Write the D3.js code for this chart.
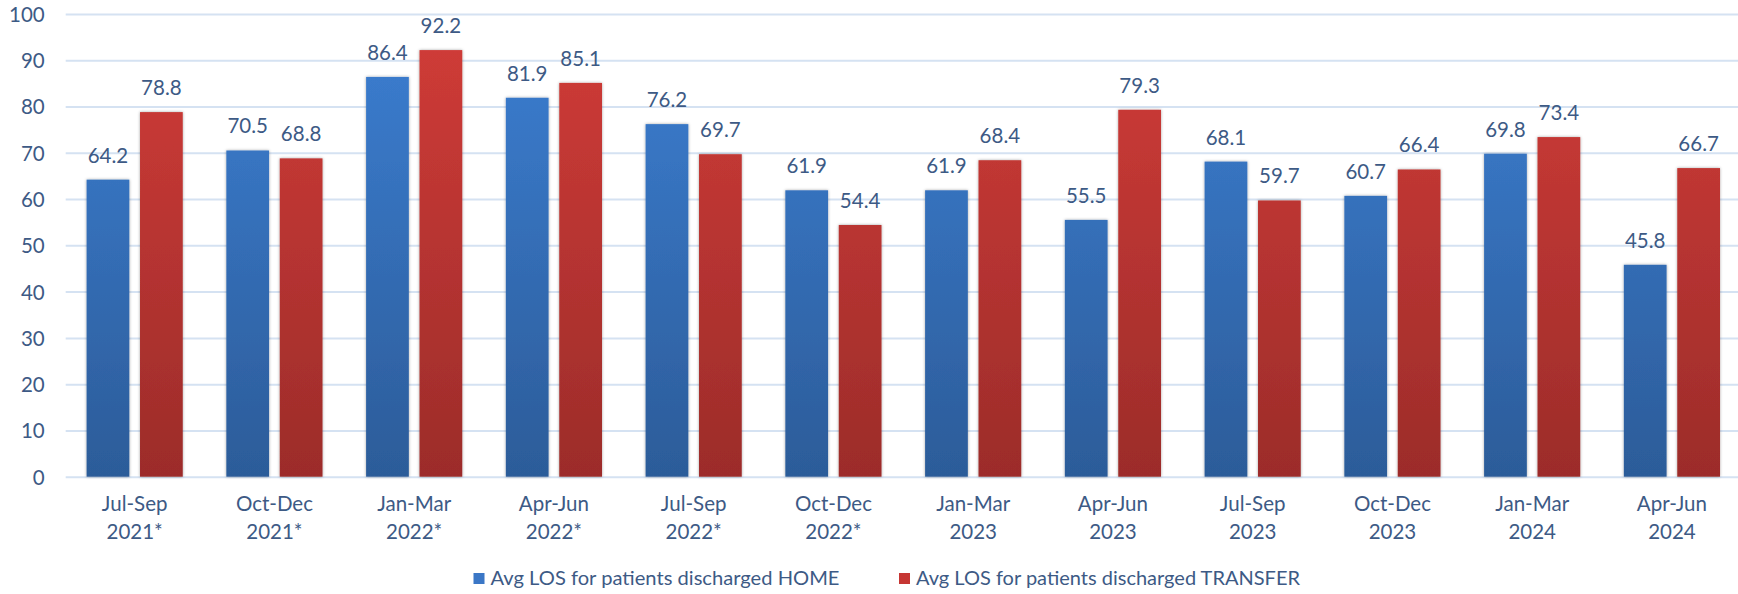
<!DOCTYPE html>
<html><head><meta charset="utf-8">
<script src="https://cdn.jsdelivr.net/npm/d3@7"></script>
<style>html,body{margin:0;padding:0;background:#fff;overflow:hidden}</style>
</head><body>
<svg id="chart" width="1738" height="594"></svg>
<script>
const categoryLine1 = ["Jul-Sep","Oct-Dec","Jan-Mar","Apr-Jun","Jul-Sep","Oct-Dec","Jan-Mar","Apr-Jun","Jul-Sep","Oct-Dec","Jan-Mar","Apr-Jun"];
const categoryLine2 = ["2021*","2021*","2022*","2022*","2022*","2022*","2023","2023","2023","2023","2024","2024"];
const homeValues = [64.2,70.5,86.4,81.9,76.2,61.9,61.9,55.5,68.1,60.7,69.8,45.8];
const transferValues = [78.8,68.8,92.2,85.1,69.7,54.4,68.4,79.3,59.7,66.4,73.4,66.7];
const seriesNames = ["Avg LOS for patients discharged HOME","Avg LOS for patients discharged TRANSFER"];
const yTicks = [0,10,20,30,40,50,60,70,80,90,100];

const svg = d3.select("#chart");
const textColor = "#3d5a85";
const font = "Lato, 'Open Sans', sans-serif";
const fs = "20.5px";
const cats = categoryLine1.map((d,i)=>i);
const x0 = d3.scaleBand().domain(cats).range([64.8,1741.8]).paddingInner(0).paddingOuter(0);
const keys = ["home","transfer"];
const x1 = d3.scaleBand().domain(keys).range([0,x0.bandwidth()]).paddingInner(0.2).paddingOuter(0.408);
const y = d3.scaleLinear().domain([0,100]).range([476.7,14]);

const defs = svg.append("defs");
const grads = {home:["#3c7fd3","#2c5c99"], transfer:["#d23c38","#9c2c2a"]};
Object.entries(grads).forEach(([k,c])=>{
  const g = defs.append("linearGradient").attr("id","g-"+k).attr("x1",0).attr("x2",0)
    .attr("gradientUnits","userSpaceOnUse").attr("y1",y(100)).attr("y2",y(0));
  g.append("stop").attr("offset","0%").attr("stop-color",c[0]);
  g.append("stop").attr("offset","100%").attr("stop-color",c[1]);
});
const f = defs.append("filter").attr("id","shadow").attr("x","-20%").attr("y","-5%").attr("width","140%").attr("height","110%");
f.append("feDropShadow").attr("dx",0).attr("dy",0).attr("stdDeviation",1.6).attr("flood-color","#000").attr("flood-opacity",0.35);

// grid
const yAxis = d3.axisLeft(y).tickValues(yTicks).tickSize(-(1738-65.7)).tickPadding(20);
const ga = svg.append("g").attr("transform","translate(65.7,0)").call(yAxis);
ga.select(".domain").remove();
ga.selectAll(".tick line").attr("stroke","#d5e2f2").attr("stroke-width",2);
ga.selectAll(".tick text").attr("fill",textColor).style("font-family",font).style("font-size",fs).attr("x",-21).attr("dy","0.36em");

// bars
const data = cats.map(i=>({i, home:homeValues[i], transfer:transferValues[i]}));
const groups = svg.append("g").selectAll("g").data(data).join("g").attr("transform",d=>`translate(${x0(d.i)},0)`);
groups.selectAll("rect").data(d=>keys.map(k=>({k,v:d[k]}))).join("rect")
  .attr("x",d=>x1(d.k)).attr("width",x1.bandwidth())
  .attr("y",d=>y(d.v)).attr("height",d=>y(0)-y(d.v))
  .attr("fill",d=>`url(#g-${d.k})`).attr("filter","url(#shadow)");
groups.selectAll("text.val").data(d=>keys.map(k=>({k,v:d[k]}))).join("text").attr("class","val")
  .attr("x",d=>x1(d.k)+x1.bandwidth()/2).attr("y",d=>y(d.v)-17)
  .attr("text-anchor","middle").attr("fill",textColor).style("font-family",font).style("font-size",fs)
  .text(d=>d.v.toFixed(1));

// x labels
const xl = svg.append("g").selectAll("text").data(cats).join("text")
  .attr("x",i=>x0(i)+x0.bandwidth()/2).attr("text-anchor","middle").attr("fill",textColor)
  .style("font-family",font).style("font-size",fs);
xl.append("tspan").attr("x",i=>x0(i)+x0.bandwidth()/2).attr("y",511).text(i=>categoryLine1[i]);
xl.append("tspan").attr("x",i=>x0(i)+x0.bandwidth()/2).attr("y",539).text(i=>categoryLine2[i]);

// legend
const legendPos = [{mx:473.5, tx:490.5, tl:349},{mx:899, tx:916, tl:384}];
const colors = {home:"#3b77c6", transfer:"#c63633"};
keys.forEach((k,i)=>{
  const p = legendPos[i];
  svg.append("rect").attr("x",p.mx).attr("y",573).attr("width",11).attr("height",11).attr("fill",colors[k]);
  svg.append("text").attr("x",p.tx).attr("y",585).attr("fill",textColor)
    .style("font-family",font).style("font-size","19px")
    .attr("textLength",p.tl).attr("lengthAdjust","spacingAndGlyphs").text(seriesNames[i]);
});
</script>
</body></html>
